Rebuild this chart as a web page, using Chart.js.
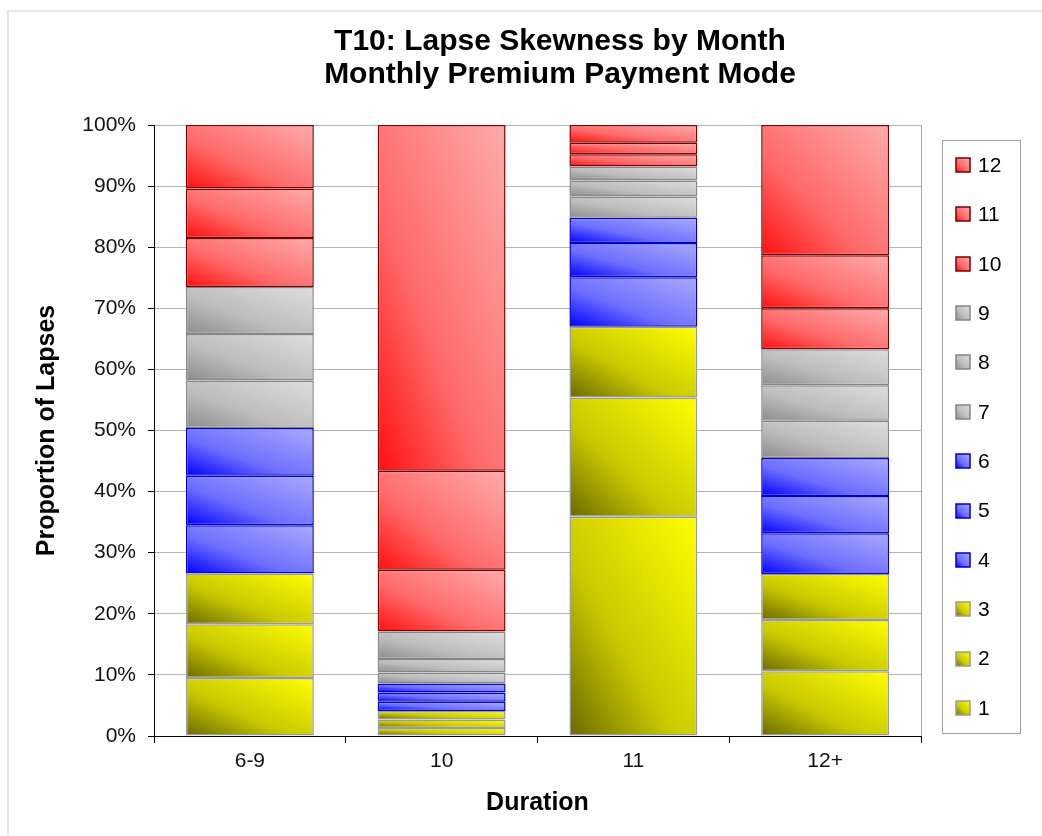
<!DOCTYPE html>
<html>
<head>
<meta charset="utf-8">
<script src="https://cdn.jsdelivr.net/npm/chart.js@4.4.1/dist/chart.umd.min.js"></script>
<style>
    html, body { margin: 0; padding: 0; background: #fff; }
</style>
</head>
<body>
<canvas id="myChart" width="1042" height="836"></canvas>
<script>
const durations = ['6-9', '10', '11', '12+'];
const months = ['1', '2', '3', '4', '5', '6', '7', '8', '9', '10', '11', '12'];
const yTicks = [0, 10, 20, 30, 40, 50, 60, 70, 80, 90, 100];

// share of lapses (%) for each month, per duration
const m1 = [9.5, 1.3, 35.9, 10.6];
const m2 = [8.8, 1.4, 19.5, 8.4];
const m3 = [8.3, 1.4, 11.6, 7.5];
const m4 = [7.9, 1.5, 8.1, 6.7];
const m5 = [8.1, 1.5, 5.6, 6.1];
const m6 = [7.8, 1.5, 4.1, 6.2];
const m7 = [7.8, 1.8, 3.5, 6.1];
const m8 = [7.6, 2.2, 2.6, 5.8];
const m9 = [7.7, 4.5, 2.3, 5.9];
const m10 = [8.0, 10.1, 2.0, 6.7];
const m11 = [8.1, 16.2, 1.9, 8.7];
const m12 = [10.4, 56.6, 2.9, 21.3];
const monthSeries = [m1, m2, m3, m4, m5, m6, m7, m8, m9, m10, m11, m12];

const FONT = "'Liberation Sans', Arial, sans-serif";

const palettes = [
    { dark: '#6a6a00', mid: '#c8c800', light: '#ffff00', border: '#9a9a9a' },   // 1-3
    { dark: '#0000ff', mid: '#6e6eff', light: '#aaaaff', border: '#0000c8' },   // 4-6
    { dark: '#8c8c8c', mid: '#bcbcbc', light: '#dedede', border: '#858585' },   // 7-9
    { dark: '#ff0f0f', mid: '#ff6a6a', light: '#ffabab', border: '#7a0000' }    // 10-12
];
function paletteFor(i) {
    return palettes[Math.floor(i / 3)];
}

// excel-like diagonal fill: dark bottom-left corner, light top-right corner
function diagGradient(ctx, left, top, right, bottom, pal) {
    const w = right - left, h = bottom - top;
    const cx = (left + right) / 2, cy = (top + bottom) / 2;
    const L = Math.sqrt(w * w + h * h) || 1;
    const t = w * h / L;
    const dx = h / L * t, dy = w / L * t;
    const g = ctx.createLinearGradient(cx - dx, cy + dy, cx + dx, cy - dy);
    g.addColorStop(0, pal.dark);
    g.addColorStop(0.4, pal.mid);
    g.addColorStop(1, pal.light);
    return g;
}

const gradientPlugin = {
    id: 'barGradient',
    beforeDatasetsDraw(chart) {
        const ctx = chart.ctx;
        chart.data.datasets.forEach((ds, i) => {
            const meta = chart.getDatasetMeta(i);
            const pal = paletteFor(i);
            meta.data.forEach(bar => {
                const top = Math.min(bar.y, bar.base), bottom = Math.max(bar.y, bar.base);
                bar.options.backgroundColor = diagGradient(ctx, bar.x - bar.width / 2, top, bar.x + bar.width / 2, bottom, pal);
            });
        });
    }
};

const framePlugin = {
    id: 'frame',
    beforeDraw(chart) {
        const ctx = chart.ctx;
        ctx.save();
        ctx.fillStyle = '#fff';
        ctx.fillRect(0, 0, chart.width, chart.height);
        ctx.strokeStyle = '#e4e4e4';
        ctx.lineWidth = 2;
        ctx.beginPath();
        ctx.moveTo(8, chart.height);
        ctx.lineTo(8, 11);
        ctx.lineTo(chart.width, 11);
        ctx.stroke();
        ctx.restore();
    },
    afterDraw(chart) {
        const ctx = chart.ctx;
        const area = chart.chartArea;
        ctx.save();

        // plot area right edge
        ctx.strokeStyle = '#a8a8a8';
        ctx.lineWidth = 1;
        ctx.beginPath();
        ctx.moveTo(Math.round(area.right) + 0.5, area.top);
        ctx.lineTo(Math.round(area.right) + 0.5, area.bottom);
        ctx.stroke();

        // title
        ctx.fillStyle = '#000';
        ctx.font = 'bold 30px ' + FONT;
        ctx.textAlign = 'center';
        ctx.textBaseline = 'middle';
        ctx.fillText('T10: Lapse Skewness by Month', 560, 42);
        ctx.fillText('Monthly Premium Payment Mode', 560, 75);

        // legend box, months listed top-down from 12 to 1
        ctx.strokeStyle = '#a0a0a0';
        ctx.strokeRect(942.5, 140.5, 78, 593);
        ctx.font = '21px ' + FONT;
        ctx.textAlign = 'left';
        const n = chart.data.datasets.length;
        const step = (708 - 165) / (n - 1);
        for (let k = 0; k < n; k++) {
            const i = n - 1 - k;
            const ds = chart.data.datasets[i];
            const pal = paletteFor(i);
            const cy = 165 + k * step;
            const bx = 956, by = Math.round(cy - 7);
            ctx.fillStyle = diagGradient(ctx, bx, by, bx + 14, by + 14, pal);
            ctx.fillRect(bx, by, 14, 14);
            ctx.strokeStyle = pal.border;
            ctx.lineWidth = 1.5;
            ctx.strokeRect(bx, by, 14, 14);
            ctx.fillStyle = '#000';
            ctx.fillText(ds.label, 978, cy + 1);
        }
        ctx.restore();
    }
};

function CreateChart() {
    const ctx = document.getElementById('myChart');

    new Chart(ctx, {
        type: 'bar',
        data: {
            labels: durations,
            datasets: months.map((m, i) => ({
                label: m,
                data: monthSeries[i],
                backgroundColor: () => paletteFor(i).light,
                borderColor: paletteFor(i).border,
                borderWidth: 1.5,
                borderSkipped: false,
                barPercentage: 0.667,
                categoryPercentage: 1
            }))
        },
        options: {
            responsive: false,
            animation: false,
            layout: {
                padding: { top: 125, right: 121, left: 0, bottom: 0 }
            },
            scales: {
                x: {
                    stacked: true,
                    ticks: {
                        font: { size: 21, family: FONT },
                        color: '#111',
                        padding: 6
                    },
                    grid: {
                        drawOnChartArea: false,
                        tickColor: '#000',
                        tickLength: 7,
                        offset: true
                    },
                    border: { color: '#000' },
                    title: {
                        display: true,
                        text: 'Duration',
                        font: { size: 25, weight: 'bold', family: FONT },
                        color: '#000',
                        padding: { bottom: 18 }
                    },
                    afterFit: scale => { scale.height = 100; }
                },
                y: {
                    stacked: true,
                    min: 0,
                    max: 100,
                    afterBuildTicks: scale => {
                        scale.ticks = yTicks.map(v => ({ value: v }));
                    },
                    ticks: {
                        callback: v => v + '%',
                        font: { size: 21, family: FONT },
                        color: '#111',
                        padding: 12
                    },
                    grid: {
                        color: '#b3b3b3',
                        tickColor: '#000',
                        tickLength: 6
                    },
                    border: { color: '#000' },
                    title: {
                        display: true,
                        text: 'Proportion of Lapses',
                        font: { size: 25, weight: 'bold', family: FONT },
                        color: '#000',
                        padding: { top: 32 }
                    },
                    afterFit: scale => { scale.width = 154; }
                }
            },
            plugins: {
                legend: { display: false },
                title: { display: false },
                tooltip: { enabled: false }
            }
        },
        plugins: [framePlugin, gradientPlugin]
    });
}

CreateChart();
</script>
</body>
</html>
